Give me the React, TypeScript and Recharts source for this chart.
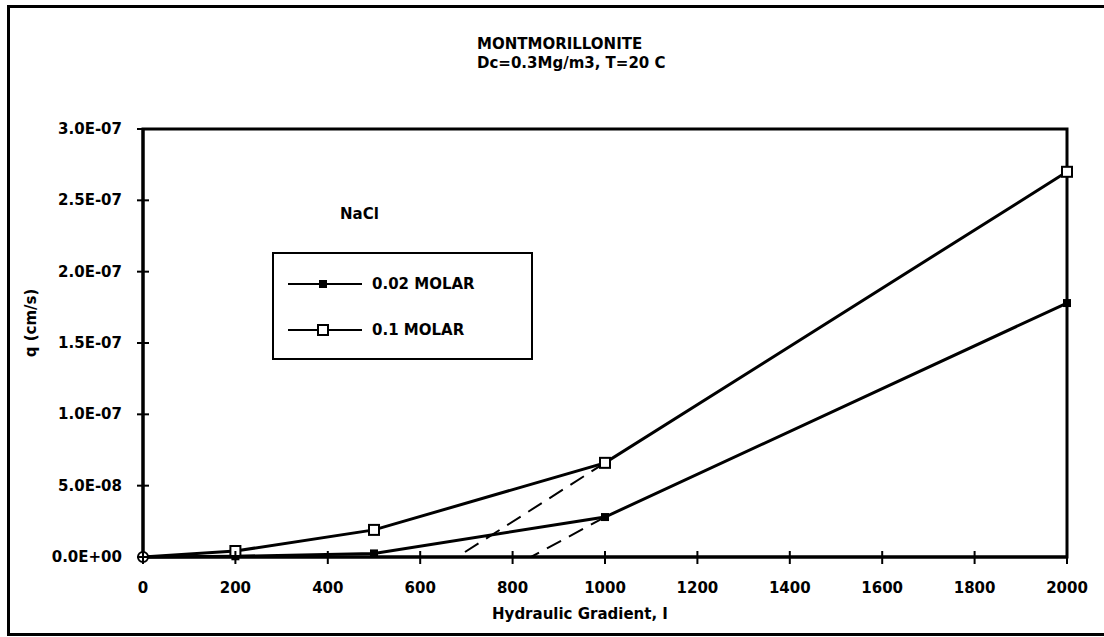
import React from 'react'
import { LineChart, Line, XAxis, YAxis, Legend, ReferenceArea } from 'recharts'

// hydraulic gradient I vs flux q, NaCl
const gradient = [0, 200, 500, 1000, 2000]
const q002 = [0, 0.5e-9, 2.5e-9, 2.8e-8, 1.78e-7]
const q01 = [0, 4.2e-9, 1.9e-8, 6.6e-8, 2.7e-7]

// dashed extrapolations back to the axis
const dash01X = [1000, 680]
const dash01Y = [6.6e-8, 0]
const dash002X = [1000, 840]
const dash002Y = [2.8e-8, 0]

const xTicks = [0, 200, 400, 600, 800, 1000, 1200, 1400, 1600, 1800, 2000]
const yTicks = [0, 5e-8, 1e-7, 1.5e-7, 2e-7, 2.5e-7, 3e-7]

const FONT = '"DejaVu Sans", "Liberation Sans", sans-serif'

const toRows = (xs: number[], ys: number[]) => xs.map((x, i) => ({ x, y: ys[i] }))
const s002 = toRows(gradient, q002)
const s01 = toRows(gradient, q01)
const d01 = toRows(dash01X, dash01Y)
const d002 = toRows(dash002X, dash002Y)

function sci(v: number) {
  if (v === 0) return '0.0E+00'
  const e = Math.floor(Math.log10(Math.abs(v)) + 1e-9)
  const m = v / Math.pow(10, e)
  const sign = e < 0 ? '-' : '+'
  return `${m.toFixed(1)}E${sign}${String(Math.abs(e)).padStart(2, '0')}`
}

const YTick = (p: any) => {
  const { x, y, payload } = p
  return (
    <g>
      <line x1={x - 6} x2={x + 6} y1={y} y2={y} stroke="#000" strokeWidth={2} />
      <text x={x - 21} y={y} dy={5} textAnchor="end" fontFamily={FONT} fontWeight={700} fontSize={15} fill="#000">
        {sci(payload.value)}
      </text>
    </g>
  )
}

const XTick = (p: any) => {
  const { x, y, payload } = p
  return (
    <g>
      <line x1={x} x2={x} y1={y - 6} y2={y + 7} stroke="#000" strokeWidth={2} />
      <text x={x} y={y + 36} textAnchor="middle" fontFamily={FONT} fontWeight={700} fontSize={15} fill="#000">
        {payload.value}
      </text>
    </g>
  )
}

const makeDot = (filled: boolean) => (p: any) => {
  const { cx, cy, payload, index } = p
  if (cx == null || cy == null) return <g key={index} />
  if (payload.x === 0) {
    if (filled) return <g key={index} />
    return <circle key={index} cx={cx} cy={cy} r={5} fill="#fff" stroke="#000" strokeWidth={2} />
  }
  const s = filled ? 6 : 10
  return (
    <rect key={index} x={cx - s / 2} y={cy - s / 2} width={s} height={s}
      fill={filled ? '#000' : '#fff'} stroke="#000" strokeWidth={2} />
  )
}

const legendRows = [
  { name: '0.02 MOLAR', filled: true },
  { name: '0.1 MOLAR', filled: false },
]

const renderLegend = () => (
  <div style={{ width: 261, height: 108, border: '2px solid #000', boxSizing: 'border-box', background: '#fff',
    fontFamily: FONT, fontWeight: 700, fontSize: 15, paddingTop: 18 }}>
    {legendRows.map(r => (
      <div key={r.name} style={{ display: 'flex', alignItems: 'center', height: 24, marginBottom: 22 }}>
        <svg width={100} height={14} style={{ marginLeft: 12 }}>
          <line x1={2} x2={76} y1={7} y2={7} stroke="#000" strokeWidth={2} />
          {r.filled
            ? <rect x={34} y={4} width={6} height={6} fill="#000" stroke="#000" strokeWidth={2} />
            : <rect x={32} y={2} width={10} height={10} fill="#fff" stroke="#000" strokeWidth={2} />}
        </svg>
        <span style={{ marginLeft: -14 }}>{r.name}</span>
      </div>
    ))}
  </div>
)

export default function App() {
  return (
    <div style={{ position: 'fixed', left: 0, top: 0, width: 1104, height: 637, overflow: 'hidden', background: '#fff' }}>
      <div style={{ position: 'absolute', left: 7, top: 5, width: 1120, height: 631, border: '3px solid #000', boxSizing: 'border-box' }} />
      <div style={{ position: 'absolute', left: 477, top: 35, fontFamily: FONT, fontWeight: 700, fontSize: 15, lineHeight: '19px' }}>
        <div>MONTMORILLONITE</div>
        <div>Dc=0.3Mg/m3, T=20 C</div>
      </div>
      <div style={{ position: 'absolute', left: 340, top: 205, fontFamily: FONT, fontWeight: 700, fontSize: 15 }}>NaCl</div>
      <LineChart width={1104} height={637} data={s01} margin={{ top: 129, right: 37, left: 8, bottom: 10 }}>
        <ReferenceArea x1={0} x2={2000} y1={0} y2={3e-7} fill="none" stroke="#000" strokeWidth={3} ifOverflow="visible" />
        <XAxis type="number" dataKey="x" domain={[0, 2000]} ticks={xTicks} interval={0} height={70}
          axisLine={{ stroke: '#000', strokeWidth: 3 }} tickLine={false} tickSize={0} tickMargin={0}
          tick={<XTick />}
          label={(p: any) => {
            const vb = p.viewBox
            return <text x={vb.x + vb.width / 2 - 25} y={vb.y + 62} textAnchor="middle" fontFamily={FONT} fontWeight={700} fontSize={15}>Hydraulic Gradient, I</text>
          }} />
        <YAxis type="number" domain={[0, 3e-7]} ticks={yTicks} interval={0} width={135}
          axisLine={{ stroke: '#000', strokeWidth: 3 }} tickLine={false} tickSize={0} tickMargin={0}
          tick={<YTick />}
          label={(p: any) => {
            const vb = p.viewBox
            const cx = vb.x + 23
            const cy = vb.y + vb.height / 2 - 20
            return <text x={cx} y={cy} transform={`rotate(-90, ${cx}, ${cy})`} textAnchor="middle" dominantBaseline="central" fontFamily={FONT} fontWeight={700} fontSize={15}>q (cm/s)</text>
          }} />
        <Legend content={renderLegend} layout="vertical" align="center" verticalAlign="middle"
          wrapperStyle={{ position: 'absolute', left: 272, top: 252, width: 261, height: 108 }} />
        <Line data={d01} dataKey="y" stroke="#000" strokeWidth={2} strokeDasharray="16 9" dot={false} legendType="none" isAnimationActive={false} />
        <Line data={d002} dataKey="y" stroke="#000" strokeWidth={2} strokeDasharray="16 9" dot={false} legendType="none" isAnimationActive={false} />
        <Line data={s002} dataKey="y" name="0.02 MOLAR" stroke="#000" strokeWidth={3} dot={makeDot(true)} isAnimationActive={false} />
        <Line data={s01} dataKey="y" name="0.1 MOLAR" stroke="#000" strokeWidth={3} dot={makeDot(false)} isAnimationActive={false} />
      </LineChart>
    </div>
  )
}
